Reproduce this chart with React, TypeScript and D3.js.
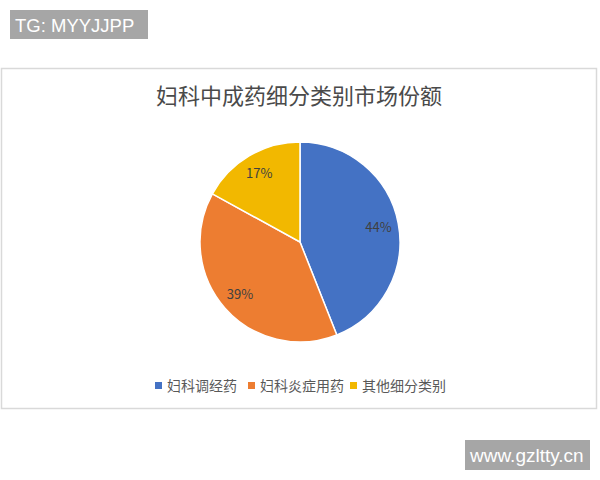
import React from "react";
import * as d3 from "d3";

const categories = ["妇科调经药", "妇科炎症用药", "其他细分类别"];
const values = [44, 39, 17];
const colors = ["#4472c4", "#ed7d31", "#f2b800"];
const title = "妇科中成药细分类别市场份额";

export default function App() {
  const W = 600, H = 480;
  const cx = 300, cy = 242, r = 100;
  const pie = d3.pie<number>().sort(null).value((d) => d);
  const arcs = pie(values);
  const arcGen = d3.arc<d3.PieArcDatum<number>>().innerRadius(0).outerRadius(r);
  const labelArc = d3.arc<d3.PieArcDatum<number>>().innerRadius(r * 0.8).outerRadius(r * 0.8);
  const font = "'Noto Sans CJK SC', 'Liberation Sans', sans-serif";
  const legendX = [155, 248, 350];
  return (
    <svg width={W} height={H} style={{ position: "absolute", left: 0, top: 0, background: "#fff" }}>
      <rect x={0} y={0} width={W} height={H} fill="#fff" />
      <rect x={1.5} y={68.5} width={595} height={340} fill="#fff" stroke="#d9d9d9" strokeWidth={1.5} />
      <rect x={10} y={10} width={138} height={29} fill="#a6a6a6" />
      <text x={15} y={32} fill="#fff" fontSize={18.5} fontFamily="'Liberation Sans', Arial, sans-serif">TG: MYYJJPP</text>
      <rect x={465} y={440} width={125} height={30} fill="#a6a6a6" />
      <text x={470} y={462} fill="#fff" fontSize={19} fontFamily="'Liberation Sans', Arial, sans-serif">www.gzltty.cn</text>
      <text x={299} y={104} textAnchor="middle" fill="#4a4a4a" fontSize={22} fontFamily={font}>{title}</text>
      <g transform={`translate(${cx},${cy})`}>
        {arcs.map((a, i) => (
          <path key={i} d={arcGen(a) || ""} fill={colors[i]} stroke="#fff" strokeWidth={1.5} />
        ))}
        {arcs.map((a, i) => {
          const [x, y] = labelArc.centroid(a);
          return (
            <text key={"l" + i} x={x} y={y} dy="0.35em" textAnchor="middle" fill="#404040" fontSize={13} fontFamily={font}>
              {values[i]}%
            </text>
          );
        })}
      </g>
      {categories.map((c, i) => (
        <g key={c}>
          <rect x={legendX[i]} y={382} width={7} height={7} fill={colors[i]} />
          <text x={legendX[i] + 12} y={391} fill="#595959" fontSize={14} fontFamily={font}>{c}</text>
        </g>
      ))}
    </svg>
  );
}
